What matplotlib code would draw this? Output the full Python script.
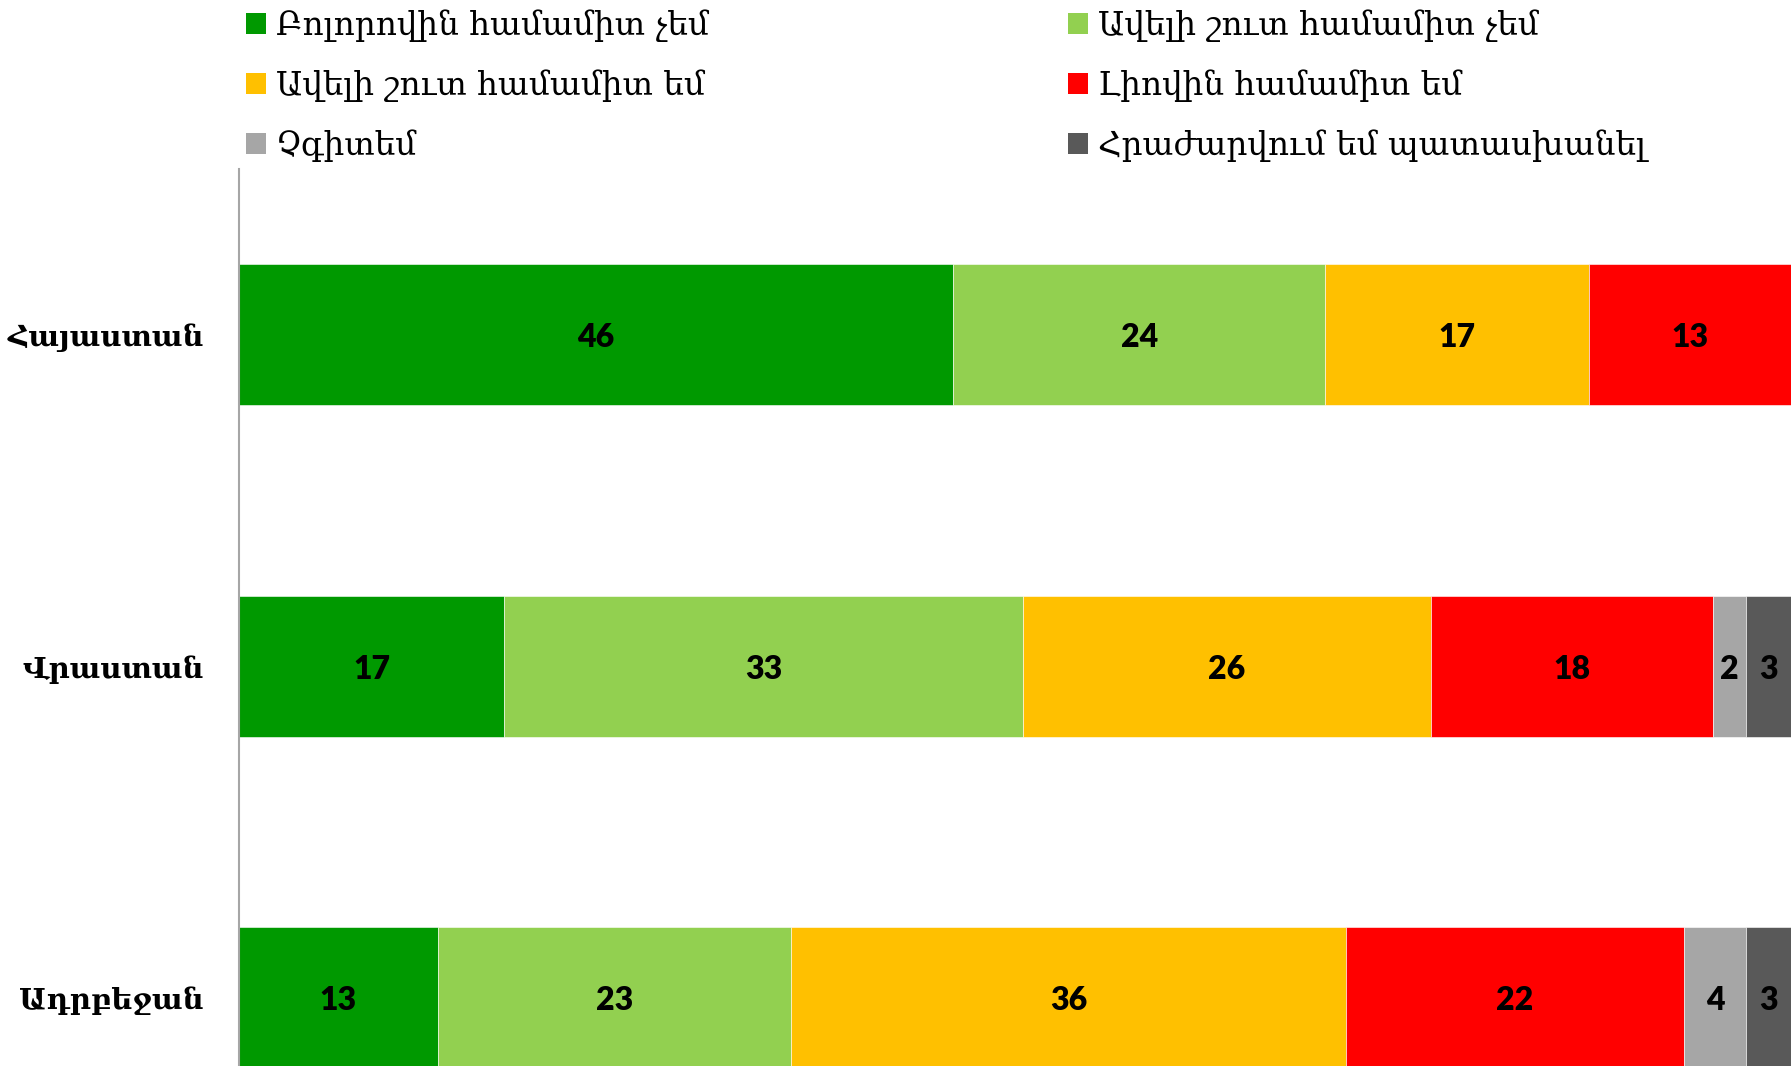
import numpy as np
import matplotlib.pyplot as plt
from matplotlib.patches import Patch

# categories (top to bottom)
countries = ["Հայաստան", "Վրաստան", "Ադրբեջան"]

# answer groups
answers = ["Բոլորովին համամիտ չեմ", "Ավելի շուտ համամիտ չեմ",
           "Ավելի շուտ համամիտ եմ", "Լիովին համամիտ եմ",
           "Չգիտեմ", "Հրաժարվում եմ պատասխանել"]
colors = ["#009900", "#92D050", "#FFC000", "#FF0000", "#A6A6A6", "#595959"]

# values per answer (Հայաստան, Վրաստան, Ադրբեջան)
v_disagree_full = [46, 17.1, 12.8]
v_disagree_rather = [24, 33.4, 22.8]
v_agree_rather = [17, 26.3, 35.7]
v_agree_full = [13, 18.2, 21.8]
v_dont_know = [0, 2.1, 4.0]
v_refuse = [0, 2.9, 2.9]
series = [v_disagree_full, v_disagree_rather, v_agree_rather,
          v_agree_full, v_dont_know, v_refuse]

fig = plt.figure(figsize=(17.91, 10.66), dpi=100)
ax = fig.add_axes([0.1334, -0.0917, 0.8666, 0.9332])

y = np.arange(len(countries))
left = np.zeros(len(countries))
for name, vals, c in zip(answers, series, colors):
    vals = np.array(vals, dtype=float)
    bars = ax.barh(y, vals, left=left, height=0.426, color=c,
                   edgecolor="white", linewidth=0.4, label=name)
    for b, v in zip(bars, vals):
        if v > 0:
            ax.text(b.get_x() + b.get_width() / 2, b.get_y() + b.get_height() / 2 + 0.008,
                    f"{v:.0f}", ha="center", va="center", fontsize=23,
                    fontweight="heavy", family="Lato", color="black")
    left += vals

ax.set_xlim(0, 100)
ax.set_ylim(len(countries) - 0.5, -0.5)
ax.set_yticks(y)
ax.set_yticklabels(countries, family="DejaVu Serif", fontweight="bold", fontsize=21)
ax.tick_params(axis="y", length=0, pad=25)
ax.set_xticks([])
for s in ["top", "right", "bottom"]:
    ax.spines[s].set_visible(False)
ax.spines["left"].set_color("#A6A6A6")
ax.spines["left"].set_linewidth(1.5)

# legend: row-major order in two columns
handles = [Patch(facecolor=c) for c in colors]
order = [0, 2, 4, 1, 3, 5]
fig.legend([handles[i] for i in order], [answers[i] for i in order],
           ncol=2, loc="upper left", bbox_to_anchor=(0.121, 1.019),
           frameon=False, prop={"family": "DejaVu Serif", "size": 23.5},
           handlelength=0.62, handleheight=0.62, handletextpad=0.3,
           columnspacing=11.0, labelspacing=0.84)

fig.savefig("out.png", dpi=100)
